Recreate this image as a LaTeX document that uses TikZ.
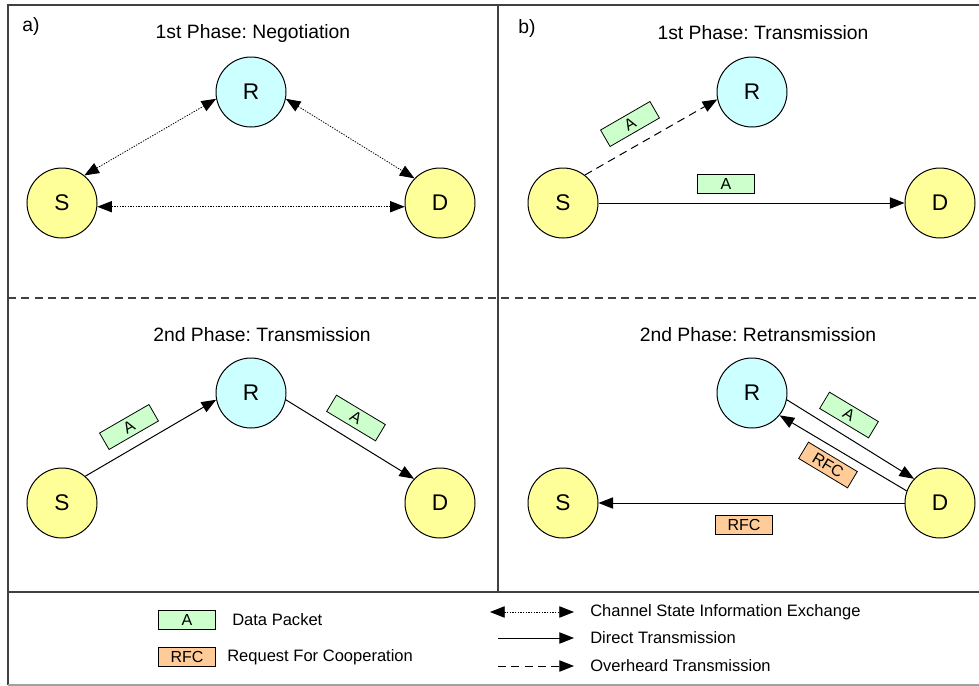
\documentclass[tikz,border=0pt]{standalone}
\usepackage{fontspec}
\setmainfont{Liberation Sans}
\frenchspacing
\usetikzlibrary{arrows.meta}
\definecolor{nyellow}{HTML}{FFFF99}
\definecolor{ncyan}{HTML}{CCFFFF}
\definecolor{pgreen}{HTML}{CCFFCC}
\definecolor{porange}{HTML}{FFCC99}
\definecolor{fgray}{HTML}{404040}
\definecolor{lgray}{HTML}{A0A0A0}

\begin{document}
\begin{tikzpicture}[
  x=0.75pt,y=-0.75pt,
  stn/.style={circle,draw,line width=0.75pt,minimum size=52.5pt,inner sep=0pt,font=\fontsize{17}{17}\selectfont},
  srcd/.style={stn,fill=nyellow},
  rly/.style={stn,fill=ncyan},
  pkt/.style={draw,line width=0.6pt,minimum width=42.75pt,minimum height=14.25pt,inner sep=0pt,font=\fontsize{12}{12}\selectfont},
  dpkt/.style={pkt,fill=pgreen},
  rpkt/.style={pkt,fill=porange},
  ttl/.style={font=\fontsize{14.5}{15}\selectfont},
  legtxt/.style={anchor=west,inner sep=0pt,font=\fontsize{12.4}{13}\selectfont},
  frame/.style={fgray,line width=1.1pt},
  csi/.style={{Triangle[length=11pt,width=8.5pt]}-{Triangle[length=11pt,width=8.5pt]},line width=0.6pt,dash pattern=on 1pt off 1pt},
  direct/.style={-{Triangle[length=11pt,width=8.5pt]},line width=0.75pt},
  heard/.style={direct,dash pattern=on 6pt off 4pt}]
\useasboundingbox (0,0) rectangle (979,686);

% ---------- frame ----------
\draw[frame] (979,5) -- (8,5) -- (8,685);
\draw[frame] (498,5) -- (498,592);
\draw[frame,dash pattern=on 6pt off 4pt] (8,298) -- (979,298);
\draw[frame] (8,592) -- (979,592);
\draw[lgray,line width=1.1pt] (8,685) -- (979,685);

% ---------- a) 1st phase: negotiation ----------
\node (lbla) at (31,26) {\fontsize{14.5}{15}\selectfont a)};
\node[ttl] (t1) at (253,33) {1st Phase: Negotiation};
\node[rly]  (r1) at (251,92)  {R};
\node[srcd] (s1) at (62,203)  {S};
\node[srcd] (d1) at (440,203) {D};
\draw[csi] (s1.51) -- (r1.191);
\draw[csi] (r1.-11) -- (d1.136);
\draw[csi] (s1.-6) -- (d1.186);

% ---------- a) 2nd phase: transmission ----------
\node[ttl] (t2) at (262,335) {2nd Phase: Transmission};
\node[rly]  (r2) at (251,393) {R};
\node[srcd] (s2) at (62,503)  {S};
\node[srcd] (d2) at (440,503) {D};
\draw[direct] (s2.49) -- (r2.191);
\draw[direct] (r2.-11) -- (d2.137);
\node[dpkt,rotate=30]  (p21) at (129,427) {A};
\node[dpkt,rotate=-31] (p22) at (356,418) {A};

% ---------- b) 1st phase: transmission ----------
\node (lblb) at (527,28) {\fontsize{14.5}{15}\selectfont b)};
\node[ttl] (t3) at (763,33) {1st Phase: Transmission};
\node[rly]  (r3) at (752,92)  {R};
\node[srcd] (s3) at (563,203) {S};
\node[srcd] (d3) at (940,203) {D};
\draw[heard] (s3.52) -- (r3.192);
\draw[direct] (s3) -- (d3);
\node[dpkt,rotate=30] (p31) at (630,124) {A};
\node[dpkt] (p32) at (726,184) {A};

% ---------- b) 2nd phase: retransmission ----------
\node[ttl] (t4) at (758,335) {2nd Phase: Retransmission};
\node[rly]  (r4) at (752,393) {R};
\node[srcd] (s4) at (563,503) {S};
\node[srcd] (d4) at (940,503) {D};
\draw[direct] (r4.-11) -- (d4.137);
\draw[direct] (d4.160) -- (r4.-39);
\draw[direct] (d4) -- (s4);
\node[dpkt,rotate=-31] (p41) at (849,415) {A};
\node[rpkt,rotate=-31] (p42) at (828,465) {RFC};
\node[rpkt] (p43) at (744,525) {RFC};

% ---------- legend ----------
\node[dpkt] (lgA) at (187,620) {A};
\node[legtxt] (lgAt) at (232,620) {Data Packet};
\node[rpkt] (lgR) at (187,657) {RFC};
\node[legtxt] (lgRt) at (227,657) {Request For Cooperation};
\coordinate (l1a) at (490,612); \coordinate (l1b) at (574,612);
\coordinate (l2a) at (498,638); \coordinate (l2b) at (574,638);
\coordinate (l3a) at (498,666); \coordinate (l3b) at (574,666);
\draw[csi] (l1a) -- (l1b);
\draw[direct] (l2a) -- (l2b);
\draw[heard] (l3a) -- (l3b);
\node[legtxt] (lg1) at (590,612) {Channel State Information Exchange};
\node[legtxt] (lg2) at (590,638) {Direct Transmission};
\node[legtxt] (lg3) at (590,666) {Overheard Transmission};
\end{tikzpicture}
\end{document}
